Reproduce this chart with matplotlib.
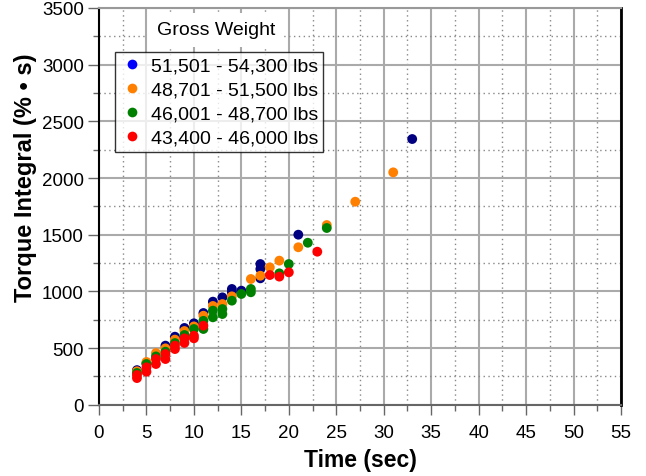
import matplotlib
matplotlib.use('Agg')
import matplotlib.pyplot as plt
from matplotlib.lines import Line2D
from matplotlib.ticker import MultipleLocator

plt.rcParams['font.family'] = ['Liberation Sans', 'DejaVu Sans']

# series data (time in sec, torque integral in %*s)
labels = ['51,501 - 54,300 lbs', '48,701 - 51,500 lbs',
          '46,001 - 48,700 lbs', '43,400 - 46,000 lbs']

t_g1 = [4, 5, 7, 8, 9, 10, 11, 12, 13, 14, 14, 15, 17, 17, 17, 21, 33]
v_g1 = [305, 365, 521, 600, 677, 718, 809, 909, 947, 1021, 992, 1006,
        1241, 1197, 1115, 1500, 2344]

t_g2 = [4, 5, 6, 7, 8, 9, 10, 11, 12, 13, 14, 16, 17, 18, 19, 21, 24, 27, 31]
v_g2 = [295, 377, 456, 497, 574, 650, 691, 785, 871, 888, 956, 1109,
        1138, 1212, 1271, 1389, 1585, 1791, 2050]

t_g3 = [4, 5, 6, 7, 8, 9, 10, 11, 11, 12, 12, 13, 13, 14, 15, 16, 16,
        19, 20, 22, 24]
v_g3 = [280, 359, 426, 468, 544, 615, 668, 740, 668, 830, 771, 844, 800,
        918, 977, 1021, 992, 1159, 1241, 1429, 1559]

t_g4 = [4, 4, 5, 5, 6, 6, 7, 7, 8, 8, 9, 9, 10, 10, 11, 18, 19, 20, 23]
v_g4 = [262, 235, 330, 291, 403, 359, 447, 403, 521, 491, 585, 545,
        609, 586, 697, 1144, 1130, 1168, 1350]

series = [(t_g1, v_g1), (t_g2, v_g2), (t_g3, v_g3), (t_g4, v_g4)]
colors = ['#000080', '#ff8000', '#008000', '#ff0000']
legend_colors = ['#0000ff', '#ff8000', '#008000', '#ff0000']

fig = plt.figure(figsize=(6.46, 4.77), dpi=100)
ax = fig.add_axes([99/646, (477-405.7)/477, 522/646, 396.7/477])

for (t, v), c in zip(series, colors):
    ax.scatter(t, v, s=50, color=c, edgecolors='none', zorder=3)

ax.set_xlim(0, 55)
ax.set_ylim(0, 3500)
ax.xaxis.set_major_locator(MultipleLocator(5))
ax.xaxis.set_minor_locator(MultipleLocator(2.5))
ax.yaxis.set_major_locator(MultipleLocator(500))
ax.yaxis.set_minor_locator(MultipleLocator(250))

ax.grid(which='major', color='#aaaaaa', linewidth=1.5, linestyle='-', zorder=0)
ax.grid(which='minor', color='#888888', linewidth=1, linestyle=(0, (1, 2.5)), zorder=0)
ax.set_axisbelow(True)

ax.tick_params(which='major', direction='out', length=7, width=1, color='#666666',
               labelsize=13.5)
ax.tick_params(axis='x', which='major', pad=7)
ax.tick_params(axis='y', which='major', length=8, pad=3)
ax.tick_params(which='minor', direction='out', length=4, width=1, color='#666666')

ax.spines['left'].set_color('black')
ax.spines['left'].set_linewidth(1.5)
ax.spines['right'].set_color('black')
ax.spines['right'].set_linewidth(2)
ax.spines['top'].set_color('#999999')
ax.spines['top'].set_linewidth(1.5)
ax.spines['bottom'].set_color('#666666')
ax.spines['bottom'].set_linewidth(1.5)

ax.set_xlabel('Time (sec)', fontsize=16.5, fontweight='bold', labelpad=5)
ax.set_ylabel('Torque Integral (% • s)', fontsize=17, fontweight='bold')
ax.yaxis.set_label_coords(-0.118, 0.574)

handles = [Line2D([], [], marker='o', linestyle='none', markersize=7,
                  markerfacecolor=c, markeredgecolor='none') for c in legend_colors]
leg = ax.legend(handles, labels, loc='upper left', bbox_to_anchor=(0.031, 0.888),
                borderaxespad=0, fontsize=14, frameon=True, fancybox=False,
                handletextpad=0.4, handlelength=1.2, labelspacing=0.33,
                borderpad=0.25)
leg.get_frame().set_edgecolor('black')
leg.get_frame().set_linewidth(1)
leg.set_zorder(5)

ax.text(0.224, 0.945, 'Gross Weight', transform=ax.transAxes, fontsize=14,
        ha='center', va='center', zorder=6,
        bbox=dict(boxstyle='square,pad=0.45', facecolor='white', edgecolor='none'))

fig.savefig('out.png', dpi=100)
